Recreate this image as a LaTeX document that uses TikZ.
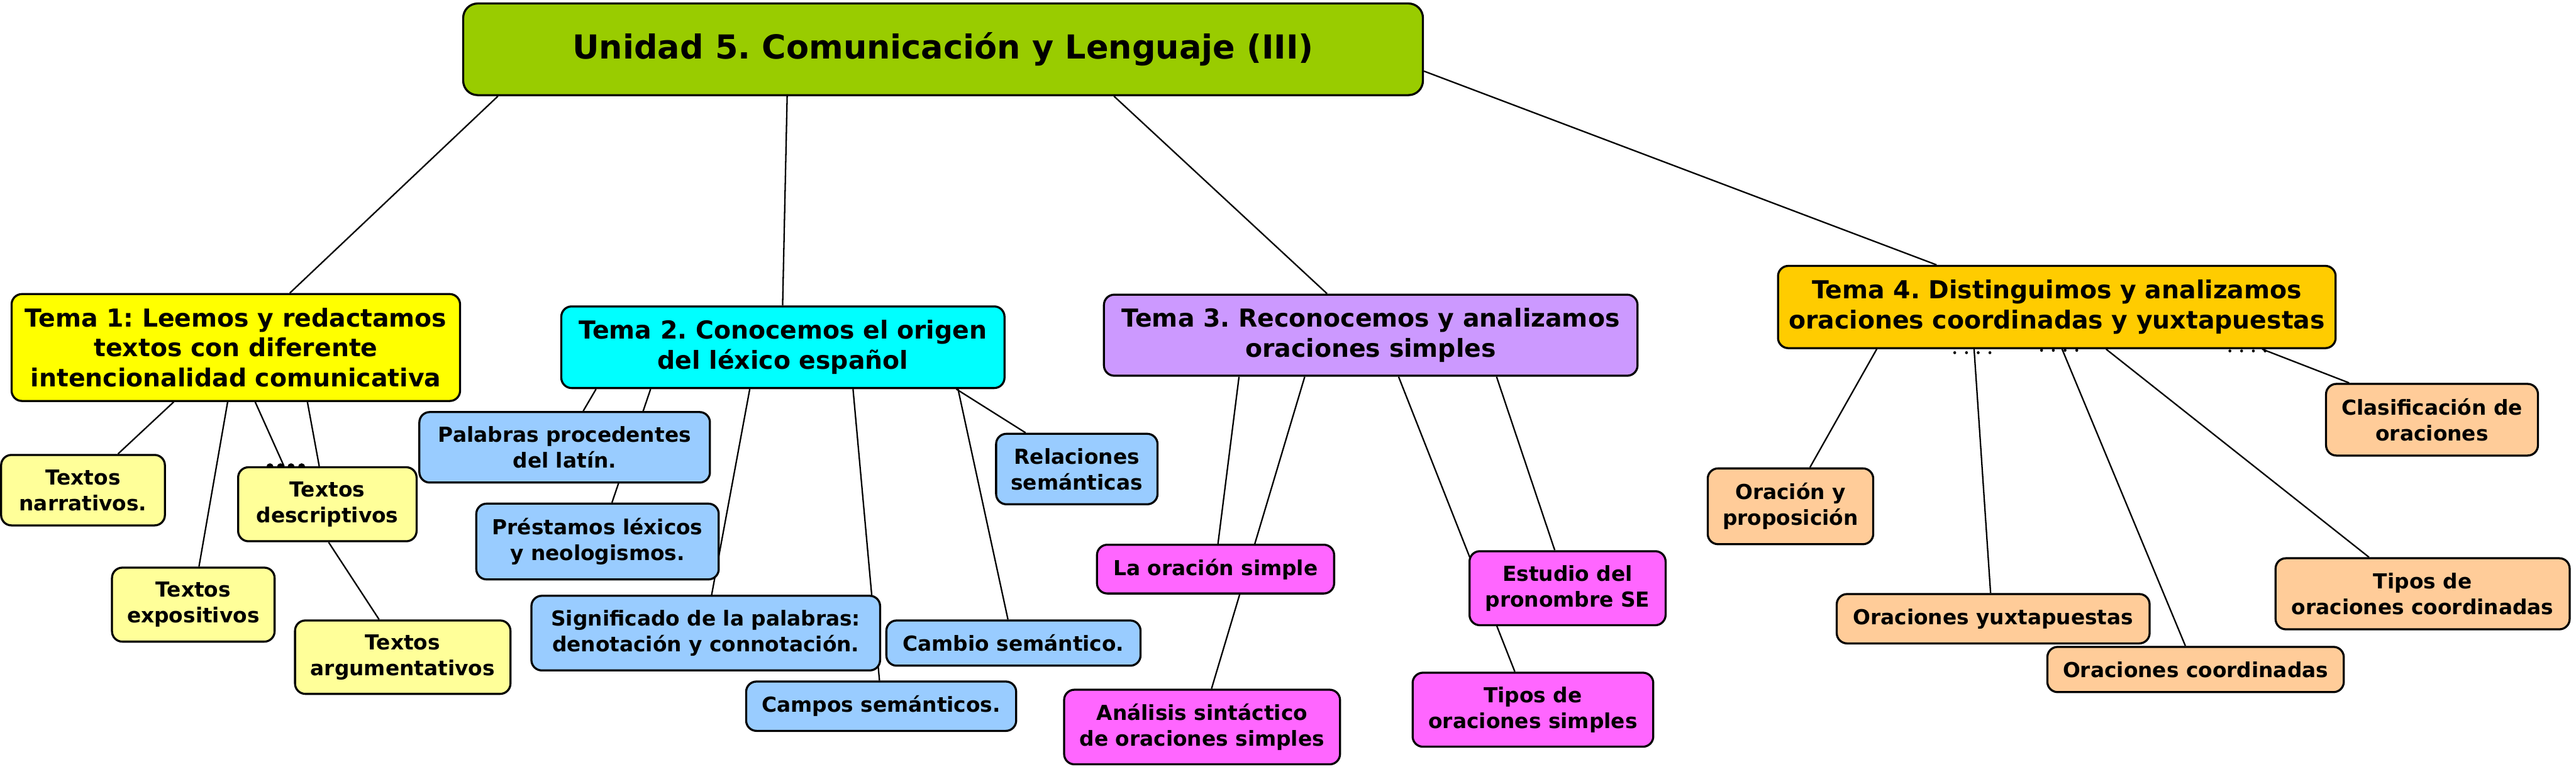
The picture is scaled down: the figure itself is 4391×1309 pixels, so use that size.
\documentclass[tikz,border=0pt]{standalone}
\usepackage{fontspec}
\setmainfont{DejaVu Sans}
\usetikzlibrary{calc,backgrounds}
\frenchspacing
\definecolor{cU}{HTML}{99CC00}
\definecolor{cA}{HTML}{FFFF00}
\definecolor{cAs}{HTML}{FFFF99}
\definecolor{cB}{HTML}{00FFFF}
\definecolor{cBs}{HTML}{99CCFF}
\definecolor{cC}{HTML}{CC99FF}
\definecolor{cCs}{HTML}{FF66FF}
\definecolor{cD}{HTML}{FFCC00}
\definecolor{cDs}{HTML}{FFCC99}
\begin{document}
\begin{tikzpicture}[x=0.01cm,y=-0.01cm,
  box/.style={draw=black,line width=1pt,rounded corners=5pt,align=center,inner sep=1pt,
    font=\frenchspacing\bfseries\fontsize{10}{12.5}\selectfont},
  head/.style={box,font=\frenchspacing\bfseries\fontsize{12}{14.5}\selectfont},
  link/.style={draw=black,line width=0.7pt}]
\useasboundingbox (0,0) rectangle (4391,1309);
% main
\node[box,fill=cU,rounded corners=7pt,minimum width=16.35cm,minimum height=1.56cm,
  font=\frenchspacing\bfseries\fontsize{16}{19}\selectfont] (u) at (1607.5,84) {Unidad 5. Comunicación y Lenguaje (III)};
% Tema 1
\node[head,fill=cA,minimum width=7.64cm,minimum height=1.82cm] (t1) at (402,592)
  {Tema 1: Leemos y redactamos\\textos con diferente\\intencionalidad comunicativa};
\node[box,fill=cAs,minimum width=2.79cm,minimum height=1.20cm] (nar) at (141.5,835) {Textos\\narrativos.};
\node[box,fill=cAs,minimum width=3.04cm,minimum height=1.26cm] (des) at (558,859) {Textos\\descriptivos};
\node[box,fill=cAs,minimum width=2.77cm,minimum height=1.26cm] (exp) at (329.5,1030) {Textos\\expositivos};
\node[box,fill=cAs,minimum width=3.67cm,minimum height=1.25cm] (arg) at (686.5,1119.5) {Textos\\argumentativos};
% Tema 2
\node[head,fill=cB,minimum width=7.55cm,minimum height=1.39cm] (t2) at (1334.5,591.5)
  {Tema 2. Conocemos el origen\\del léxico español};
\node[box,fill=cBs,minimum width=4.95cm,minimum height=1.20cm] (lat) at (962.5,762) {Palabras procedentes\\del latín.};
\node[box,fill=cBs,minimum width=4.13cm,minimum height=1.29cm] (pre) at (1018.5,922.5) {Préstamos léxicos\\y neologismos.};
\node[box,fill=cBs,minimum width=5.94cm,minimum height=1.27cm] (sig) at (1203,1078.5) {Significado de la palabras:\\denotación y connotación.};
\node[box,fill=cBs,minimum width=4.60cm,minimum height=0.84cm] (cam) at (1502,1203) {Campos semánticos.};
\node[box,fill=cBs,minimum width=4.33cm,minimum height=0.77cm] (cmb) at (1727.5,1095.5) {Cambio semántico.};
\node[box,fill=cBs,minimum width=2.75cm,minimum height=1.20cm] (rel) at (1835.5,799) {Relaciones\\semánticas};
% Tema 3
\node[head,fill=cC,minimum width=9.09cm,minimum height=1.38cm] (t3) at (2336.5,571)
  {Tema 3. Reconocemos y analizamos\\oraciones simples};
\node[box,fill=cCs,minimum width=4.04cm,minimum height=0.83cm] (ora) at (2072,969.5) {La oración simple};
\node[box,fill=cCs,minimum width=4.70cm,minimum height=1.27cm] (ana) at (2049,1238.5) {Análisis sintáctico\\de oraciones simples};
\node[box,fill=cCs,minimum width=3.34cm,minimum height=1.26cm] (est) at (2672,1002) {Estudio del\\pronombre SE};
\node[box,fill=cCs,minimum width=4.10cm,minimum height=1.26cm] (tip) at (2613,1209) {Tipos de\\oraciones simples};
% Tema 4
\node[head,fill=cD,minimum width=9.50cm,minimum height=1.40cm] (t4) at (3506,523)
  {Tema 4. Distinguimos y analizamos\\oraciones coordinadas y yuxtapuestas};
\node[box,fill=cDs,minimum width=3.61cm,minimum height=1.22cm] (cla) at (4145.5,715) {Clasificación de\\oraciones};
\node[box,fill=cDs,minimum width=2.82cm,minimum height=1.29cm] (orp) at (3052,862.5) {Oración y\\proposición};
\node[box,fill=cDs,minimum width=5.33cm,minimum height=0.84cm] (yux) at (3397.5,1054) {Oraciones yuxtapuestas};
\node[box,fill=cDs,minimum width=5.05cm,minimum height=0.77cm] (coo) at (3742.5,1140.5) {Oraciones coordinadas};
\node[box,fill=cDs,minimum width=5.01cm,minimum height=1.21cm] (tco) at (4129.5,1011.5) {Tipos de\\oraciones coordinadas};
% connectors
\begin{scope}[on background layer]
\draw[link] ($(u.south west)+(61,0)$) -- ($(t1.north west)+(476,0)$);
\draw[link] ($(u.south west)+(554,0)$) -- ($(t2.north west)+(379,0)$);
\draw[link] ($(u.south west)+(1111,0)$) -- ($(t3.north west)+(382,0)$);
\draw[link] ($(u.north east)+(0,117)$) -- ($(t4.north west)+(272,0)$);
\draw[link] ($(t1.south west)+(278,0)$) -- ($(nar.north west)+(201,0)$);
\draw[link] ($(t1.south west)+(370,0)$) -- ($(exp.north west)+(150,0)$);
\draw[link] ($(t1.south west)+(417,0)$) -- ($(des.north west)+(80,0)$);
\draw[link] ($(t1.south west)+(506,0)$) -- ($(des.north west)+(140,0)$);
\draw[link] ($(des.south west)+(156,0)$) -- ($(arg.north west)+(145,0)$);
\draw[link] ($(t2.south west)+(61,0)$) -- ($(lat.north west)+(281,0)$);
\draw[link] ($(t2.south west)+(154,0)$) -- ($(pre.north west)+(233,0)$);
\draw[link] ($(t2.south west)+(323,0)$) -- ($(sig.north west)+(309,0)$);
\draw[link] ($(t2.south west)+(499,0)$) -- ($(cam.north west)+(229,0)$);
\draw[link] ($(t2.south west)+(678,0)$) -- ($(cmb.north west)+(209,0)$);
\draw[link] ($(t2.south west)+(675,0)$) -- ($(rel.north west)+(52,0)$);
\draw[link] ($(t3.south west)+(232,0)$) -- ($(ora.north west)+(208,0)$);
\draw[link] ($(t3.south west)+(344,0)$) -- ($(ana.north west)+(253,0)$);
\draw[link] ($(t3.south west)+(504,0)$) -- ($(tip.north west)+(176,0)$);
\draw[link] ($(t3.south west)+(671,0)$) -- ($(est.north west)+(147,0)$);
\draw[link] ($(t4.south west)+(170,0)$) -- ($(orp.north west)+(176,0)$);
\draw[link] ($(t4.south west)+(336,0)$) -- ($(yux.north west)+(264,0)$);
\draw[link] ($(t4.south west)+(486,0)$) -- ($(coo.north west)+(237,0)$);
\draw[link] ($(t4.south west)+(561,0)$) -- ($(tco.north west)+(161,0)$);
\draw[link] ($(t4.south west)+(827,0)$) -- ($(cla.north west)+(41,0)$);
% small bumps on top of "Textos descriptivos"
\foreach \dx in {56,74,92,110} \fill ($(des.north west)+(\dx,1)$) circle (6);
\end{scope}
% small dot marks under Tema 4
\foreach \dx in {303,323,343,363} \fill ($(t4.south west)+(\dx,6)$) circle (2.5);
\foreach \dx in {451,471,491,511} \fill ($(t4.south west)+(\dx,2)$) circle (2.5);
\foreach \dx in {772,792,812,832} \fill ($(t4.south west)+(\dx,3)$) circle (2.5);
\end{tikzpicture}
\end{document}
